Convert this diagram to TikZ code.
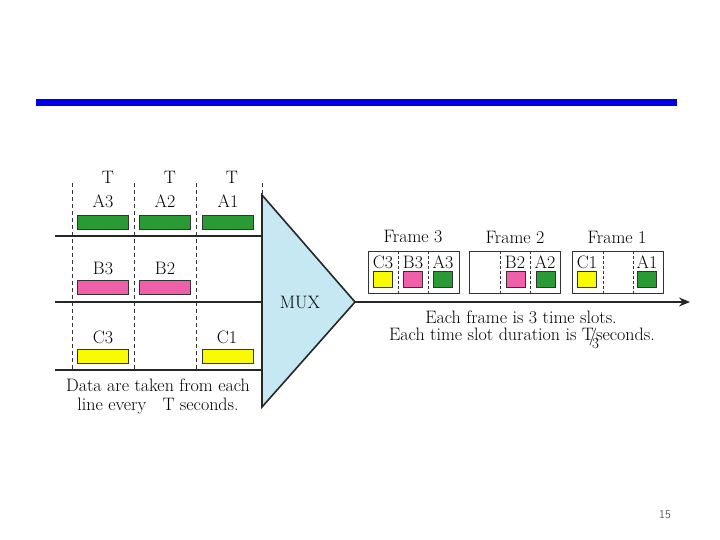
\documentclass[tikz,border=0pt]{standalone}
\usepackage{fontspec}
\usetikzlibrary{arrows.meta}
\definecolor{barblue}{RGB}{0,0,230}
\definecolor{dgreen}{RGB}{42,154,52}
\definecolor{dpink}{RGB}{240,96,170}
\definecolor{dyellow}{RGB}{250,250,0}
\definecolor{muxblue}{RGB}{198,232,242}
\definecolor{pagegray}{RGB}{90,90,90}
\tikzset{
  lbl/.style={inner sep=0pt, text=black, font=\fontsize{18}{21}\selectfont},
  bar/.style={draw=black!80, line width=0.8pt, minimum width=51pt, minimum height=14pt, inner sep=0pt},
  sq/.style={draw=black!80, line width=0.8pt, minimum width=19pt, minimum height=16pt, inner sep=0pt},
  frm/.style={draw=black!80, line width=0.8pt, minimum width=91pt, minimum height=42pt, inner sep=0pt},
  slotsep/.style={draw=black!80, line width=0.7pt, dash pattern=on 3pt off 2pt},
  vdash/.style={draw=black!80, line width=0.8pt, dash pattern=on 4pt off 3pt},
  hline/.style={draw=black!85, line width=1.5pt},
}
\begin{document}
\begin{tikzpicture}[x=1pt,y=-1pt]
\useasboundingbox (0,0) rectangle (720,540);
% title bar
\fill[barblue] (36,99) rectangle (677,106);
% dashed time lines
\foreach \x/\n in {72/d1,134/d2,196/d3}{
  \coordinate (\n t) at (\x,183);
  \coordinate (\n b) at (\x,370);
  \draw[vdash] (\n t) -- (\n b);
}
\coordinate (d4t) at (262,183);
\coordinate (d4b) at (262,195);
\draw[vdash] (d4t) -- (d4b);
% MUX triangle
\coordinate (mt) at (262,195);
\coordinate (mb) at (262,407);
\coordinate (ma) at (355,302);
\filldraw[fill=muxblue, draw=black!85, line width=1.6pt, line join=miter] (mt) -- (ma) -- (mb) -- cycle;
\node[lbl] (mux) at (300,302) {MUX};
% horizontal lines
\foreach \y/\n in {236/h1,302/h2,370/h3}{
  \coordinate (\n l) at (55,\y);
  \coordinate (\n r) at (262,\y);
  \draw[hline] (\n l) -- (\n r);
}
% T labels
\node[lbl] (t1) at (108,177) {T};
\node[lbl] (t2) at (170,177) {T};
\node[lbl] (t3) at (232,177) {T};
% A row
\node[lbl] (la3) at (103,201) {A3};
\node[lbl] (la2) at (165,201) {A2};
\node[lbl] (la1) at (228,201) {A1};
\node[bar, fill=dgreen] (ba3) at (102.5,222) {};
\node[bar, fill=dgreen] (ba2) at (164.5,222) {};
\node[bar, fill=dgreen] (ba1) at (227.5,222) {};
% B row
\node[lbl] (lb3) at (103,268) {B3};
\node[lbl] (lb2) at (165,268) {B2};
\node[bar, fill=dpink] (bb3) at (102.5,287.5) {};
\node[bar, fill=dpink] (bb2) at (164.5,287.5) {};
% C row
\node[lbl] (lc3) at (103,337) {C3};
\node[lbl] (lc1) at (227,337) {C1};
\node[bar, fill=dyellow] (bc3) at (102.5,356) {};
\node[bar, fill=dyellow] (bc1) at (227.5,356) {};
% caption left
\node[lbl] (cap1) at (158,385) {Data are taken from each};
\node[lbl] (cap2) at (158,406) {line every\hspace{0.6em} T seconds.};
% output arrow
\coordinate (aend) at (690,302);
\draw[hline, -{Stealth[length=11pt,width=9pt]}] (ma) -- (aend);
% frames
\node[frm] (f3) at (413.5,272) {};
\node[frm] (f2) at (514.5,272) {};
\node[frm] (f1) at (617.5,272) {};
\node[lbl] (f3l) at (413,237) {Frame 3};
\node[lbl] (f2l) at (515,237) {Frame 2};
\node[lbl] (f1l) at (617,237) {Frame 1};
% frame 3 slots
\coordinate (s31t) at (398,251); \coordinate (s31b) at (398,293);
\coordinate (s32t) at (428,251); \coordinate (s32b) at (428,293);
\draw[slotsep] (s31t) -- (s31b);
\draw[slotsep] (s32t) -- (s32b);
\node[lbl] (f3c) at (383,262) {C3};
\node[lbl] (f3b) at (413,262) {B3};
\node[lbl] (f3a) at (443,262) {A3};
\node[sq, fill=dyellow] (q3c) at (382.5,279) {};
\node[sq, fill=dpink] (q3b) at (413,279) {};
\node[sq, fill=dgreen] (q3a) at (443,279) {};
% frame 2 slots
\coordinate (s21t) at (500,251); \coordinate (s21b) at (500,293);
\coordinate (s22t) at (530,251); \coordinate (s22b) at (530,293);
\draw[slotsep] (s21t) -- (s21b);
\draw[slotsep] (s22t) -- (s22b);
\node[lbl] (f2b) at (515,262) {B2};
\node[lbl] (f2a) at (545,262) {A2};
\node[sq, fill=dpink] (q2b) at (515.5,279) {};
\node[sq, fill=dgreen] (q2a) at (545.5,279) {};
% frame 1 slots
\coordinate (s11t) at (603,251); \coordinate (s11b) at (603,293);
\coordinate (s12t) at (633,251); \coordinate (s12b) at (633,293);
\draw[slotsep] (s11t) -- (s11b);
\draw[slotsep] (s12t) -- (s12b);
\node[lbl] (f1c) at (587,262) {C1};
\node[lbl] (f1a) at (647,262) {A1};
\node[sq, fill=dyellow] (q1c) at (587,279) {};
\node[sq, fill=dgreen] (q1a) at (647,279) {};
% caption right
\node[lbl] (cap3) at (521,317) {Each frame is 3 time slots.};
\node[lbl] (cap4) at (522,338) {Each time slot duration is T\kern-5pt\raisebox{-1pt}{/}\kern-5pt\raisebox{-8pt}{\fontsize{15}{15}\selectfont 3}\kern-3pt seconds.};
% page number
\node[inner sep=0pt, font=\sffamily\fontsize{12}{14}\selectfont, text=pagegray] (pg) at (665,515) {15};
\end{tikzpicture}
\end{document}
